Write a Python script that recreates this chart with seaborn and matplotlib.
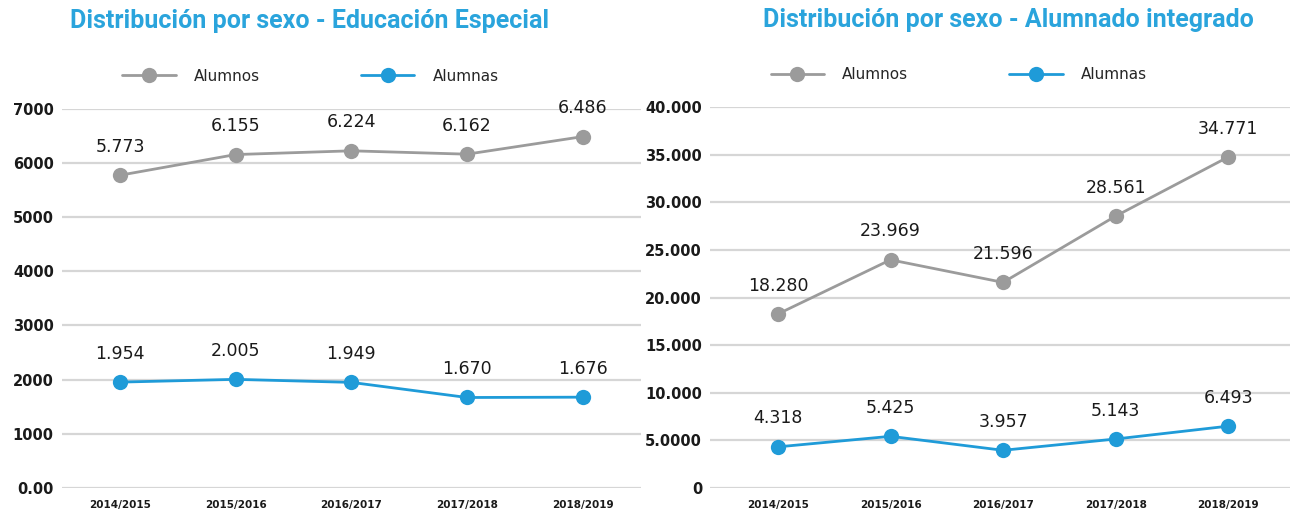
import pandas as pd
import matplotlib.pyplot as plt
import seaborn as sns

cursos = ['2014/2015', '2015/2016', '2016/2017', '2017/2018', '2018/2019']

# Educación Especial
esp_alumnos = [5773, 6155, 6224, 6162, 6486]
esp_alumnas = [1954, 2005, 1949, 1670, 1676]

# Alumnado integrado
int_alumnos = [18280, 23969, 21596, 28561, 34771]
int_alumnas = [4318, 5425, 3957, 5143, 6493]

esp_ticks = [0, 1000, 2000, 3000, 4000, 5000, 6000, 7000]
esp_ticklabels = ['0.00', '1000', '2000', '3000', '4000', '5000', '6000', '7000']
int_ticks = [0, 5000, 10000, 15000, 20000, 25000, 30000, 35000, 40000]
int_ticklabels = ['0', '5.0000', '10.000', '15.000', '20.000', '25.000',
                  '30.000', '35.000', '40.000']

GRIS = '#9b9b9b'
AZUL = '#1f9bd8'
TITULO = '#2aa4dc'

sns.set_style('white')
plt.rcParams['font.family'] = ['DejaVu Sans']


def fmt(v):
    return f'{v:,}'.replace(',', '.')


def panel(ax, alumnos, alumnas, ticks, ticklabels, titulo, xlim, title_x):
    df = pd.DataFrame({'curso': cursos * 2,
                       'valor': alumnos + alumnas,
                       'sexo': ['Alumnos'] * 5 + ['Alumnas'] * 5})
    sns.lineplot(data=df, x='curso', y='valor', hue='sexo',
                 palette={'Alumnos': GRIS, 'Alumnas': AZUL},
                 marker='o', markersize=11, markeredgewidth=0,
                 linewidth=2, ax=ax, clip_on=False, zorder=3)
    for serie in (alumnos, alumnas):
        for i, v in enumerate(serie):
            ax.annotate(fmt(v), (i, v), xytext=(0, 14),
                        textcoords='offset points', ha='center', va='bottom',
                        fontsize=12.5, color='#1a1a1a')
    ax.set_ylim(ticks[0], ticks[-1])
    ax.set_xlim(*xlim)
    ax.set_yticks(ticks)
    ax.set_yticklabels(ticklabels, fontsize=10.5, fontweight='bold',
                       color='#1a1a1a')
    for lbl in ax.get_xticklabels():
        lbl.set_fontsize(7.5)
        lbl.set_fontweight('bold')
        lbl.set_color('#1a1a1a')
    ax.tick_params(axis='y', length=0, pad=6)
    ax.tick_params(axis='x', length=0, pad=9)
    ax.yaxis.grid(True, color='#d6d6d6', linewidth=1.6)
    ax.set_axisbelow(True)
    sns.despine(ax=ax, left=True, bottom=True)
    ax.set_xlabel('')
    ax.set_ylabel('')
    handles, labels = ax.get_legend_handles_labels()
    ax.legend(handles, labels, ncol=2, frameon=False, loc='lower left',
              bbox_to_anchor=(0.08, 1.03), columnspacing=6.6,
              handlelength=3.5, handletextpad=1.2,
              prop={'family': 'DejaVu Sans', 'size': 11})
    ax.set_title(titulo, loc='left', x=title_x, y=1.19,
                 fontsize=18, fontweight='semibold', color=TITULO,
                 family=['Roboto', 'DejaVu Sans'])


fig = plt.figure(figsize=(12.94, 5.18), dpi=100)
ax1 = fig.add_axes([0.048, 0.058, 0.447, 0.732])
ax2 = fig.add_axes([0.549, 0.058, 0.448, 0.735])

panel(ax1, esp_alumnos, esp_alumnas, esp_ticks, esp_ticklabels,
      'Distribución por sexo - Educación Especial', (-0.5, 4.5), 0.014)
panel(ax2, int_alumnos, int_alumnas, int_ticks, int_ticklabels,
      'Distribución por sexo - Alumnado integrado', (-0.6, 4.55), 0.09)

fig.savefig('out.png', dpi=100)
